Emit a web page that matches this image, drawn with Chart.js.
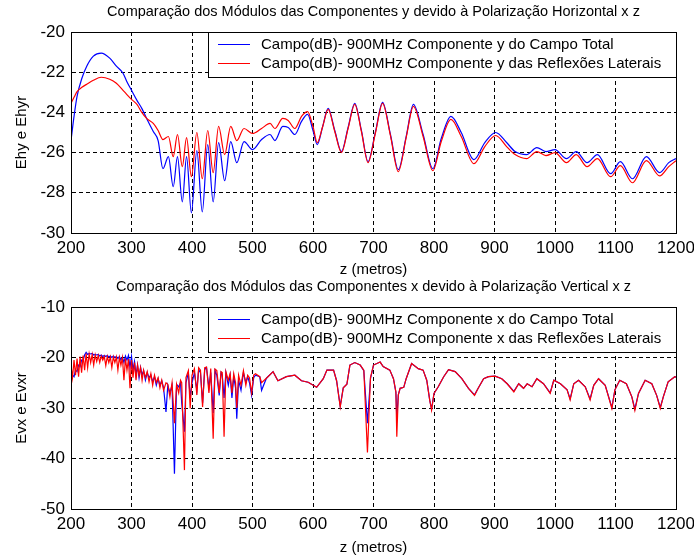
<!DOCTYPE html>
<html>
<head>
<meta charset="utf-8">
<script src="https://cdn.jsdelivr.net/npm/chart.js@4/dist/chart.umd.min.js"></script>
<style>
  html, body { margin: 0; padding: 0; background: #fff; }
  #wrap { position: relative; width: 694px; height: 560px; }
  canvas { position: absolute; left: 0; }
  #topChart { top: 0; }
  #botChart { top: 275px; }
</style>
</head>
<body>
<div id="wrap">
  <canvas id="topChart" width="694" height="280"></canvas>
  <canvas id="botChart" width="694" height="285"></canvas>
</div>
<script>
// --- y component, horizontal polarization ---
const zTop = [200, 205, 210, 218, 226, 237, 250, 264, 275, 286, 292, 300, 309, 317, 325, 336, 344, 352, 361, 369,
  376, 384, 391, 399, 408, 417, 426, 435, 444, 454, 464, 474, 486, 500, 515, 529, 537, 550, 559, 570,
  581, 591, 600, 607, 616, 625, 636, 647, 658, 669, 680, 691, 703, 715, 728, 741, 754, 766, 782, 798,
  812, 828, 845, 866, 884, 902, 920, 934, 953, 970, 985, 1000, 1019, 1035, 1053, 1070, 1092, 1108, 1128, 1151,
  1173, 1188, 1200];
const eyTotal = [-25.4, -24.2, -23.2, -22.3, -21.7, -21.2, -21.05, -21.3, -21.7, -22.05, -22.45, -22.9, -23.4, -23.8, -24.3, -24.95, -25.4, -26.8, -26.2, -27.7,
  -26.2, -28.45, -26.2, -29.0, -25.9, -28.95, -25.6, -28.45, -25.5, -27.4, -25.45, -26.5, -25.45, -25.85, -25.35, -25.1, -25.4, -24.7, -24.75, -25.1,
  -24.45, -24.1, -24.9, -25.6, -24.7, -23.8, -24.9, -25.95, -24.75, -23.55, -24.9, -26.45, -25.0, -23.5, -25.1, -26.85, -25.2, -23.6, -25.1, -26.8,
  -25.3, -24.2, -25.0, -26.35, -25.5, -25.0, -25.5, -25.95, -26.1, -25.75, -25.95, -25.85, -26.3, -25.95, -26.5, -26.1, -27.05, -26.45, -27.3, -26.2,
  -27.0, -26.5, -26.3];
const eyRefl = [-23.55, -23.25, -22.97, -22.75, -22.6, -22.4, -22.25, -22.35, -22.55, -22.9, -23.1, -23.35, -23.6, -24.0, -24.3, -24.55, -24.9, -25.35, -25.2, -26.2,
  -25.1, -26.7, -25.25, -27.2, -25.0, -27.3, -24.9, -27.0, -24.7, -26.1, -24.7, -25.4, -24.8, -25.05, -24.8, -24.55, -24.8, -24.3, -24.4, -24.8,
  -24.2, -23.96, -24.7, -25.5, -24.7, -23.85, -24.95, -26.0, -24.8, -23.6, -24.95, -26.5, -25.05, -23.55, -25.15, -26.95, -25.25, -23.7, -25.2, -26.9,
  -25.45, -24.35, -25.2, -26.55, -25.7, -25.15, -25.7, -26.1, -26.3, -25.95, -26.15, -26.0, -26.5, -26.1, -26.7, -26.3, -27.2, -26.65, -27.5, -26.4,
  -27.16, -26.7, -26.4];

// --- x component, vertical polarization ---
const zBot = [200, 202.5, 205, 207.5, 210, 212.5, 215, 217.5, 220, 222.5,
  225, 227.5, 230, 232.5, 235, 237.5, 240, 242.5, 245, 247.5,
  250, 252.5, 255, 257.5, 260, 262.5, 265, 267.5, 270, 272.5,
  275, 277.5, 280, 282.5, 285, 287.5, 290, 292.5, 295, 297.5,
  300, 302.5, 305, 307.5, 310, 312.5, 315, 317.5, 320, 323,
  326, 329, 332, 335, 338, 341, 344, 347, 350, 353,
  357, 360, 363.5, 367, 371, 374.5, 378, 381, 383, 387.5,
  390, 394, 397, 400, 404, 408, 411, 414, 417.5, 421,
  424, 428, 431, 435, 438, 441, 445, 448, 450, 453,
  456, 460, 463, 466, 469, 472, 474, 477, 481, 485,
  489, 492, 495, 498.5, 502, 505, 512, 515, 523, 534,
  542, 556, 570, 581, 592, 606, 617, 623, 634, 639,
  645, 650, 656, 661, 669, 678, 684, 690, 695, 700,
  711, 716, 727, 733, 737, 738.5, 741, 744, 750, 754,
  763, 774, 782, 788, 793, 796, 800, 807, 816, 824,
  835, 846, 857, 867, 873, 882, 890, 901, 912, 921,
  932, 940, 948, 954, 962, 970, 981, 992, 998, 1009,
  1020, 1025, 1031, 1039, 1050, 1058, 1064, 1072, 1083, 1094,
  1099, 1107, 1118, 1127, 1132, 1138, 1149, 1160, 1168, 1174,
  1179, 1187, 1198, 1200];
const exTotal = [-24.8, -23.5, -23.8, -22.5, -22.8, -21.5, -21.8, -20.5, -20.6, -19.5,
  -19.0, -19.4, -19.2, -19.3, -19.2, -19.5, -19.4, -19.5, -19.4, -19.7,
  -19.5, -19.8, -19.6, -19.8, -19.6, -19.9, -19.7, -20.0, -19.7, -20.0,
  -19.8, -20.2, -19.8, -20.5, -19.9, -21.0, -19.7, -20.5, -19.6, -22.0,
  -19.8, -22.5, -20.8, -23.5, -21.5, -24.0, -22.0, -23.5, -22.6, -24.5,
  -23.0, -24.0, -23.5, -24.8, -23.8, -25.5, -24.2, -25.5, -24.6, -26.0,
  -30.8, -25.5, -27.0, -25.5, -43.0, -25.3, -25.8, -25.0, -29.0, -34.7,
  -25.0, -23.0, -28.0, -25.0, -23.0, -26.5, -22.4, -23.0, -29.0, -22.4,
  -22.0, -26.0, -23.0, -31.0, -22.6, -23.5, -27.5, -23.0, -23.5, -28.0,
  -23.0, -25.5, -23.5, -28.0, -23.8, -26.0, -32.1, -24.5, -26.5, -23.0,
  -25.0, -23.8, -25.0, -27.5, -24.0, -23.5, -23.8, -26.5, -24.1, -22.8,
  -24.6, -23.8, -23.5, -24.6, -24.9, -25.9, -24.2, -22.5, -22.5, -24.6,
  -29.6, -26.0, -25.3, -21.5, -21.0, -21.5, -22.6, -33.0, -24.2, -21.5,
  -20.9, -21.8, -22.5, -24.2, -26.9, -32.0, -27.4, -26.1, -25.9, -24.2,
  -21.2, -22.2, -22.5, -24.5, -28.5, -30.2, -27.1, -25.8, -23.8, -22.4,
  -22.8, -24.2, -26.1, -27.4, -26.1, -24.2, -23.8, -23.7, -24.2, -25.2,
  -26.7, -25.2, -26.1, -25.2, -25.8, -24.2, -25.2, -27.0, -24.5, -25.2,
  -26.4, -28.2, -25.2, -24.5, -25.8, -28.2, -25.5, -24.2, -25.5, -29.9,
  -26.4, -24.5, -25.2, -27.8, -30.2, -27.1, -24.5, -25.2, -27.5, -29.9,
  -27.8, -24.8, -23.8, -23.9];
const exRefl = [-21.5, -24.0, -20.5, -23.5, -20.2, -23.8, -19.8, -23.0, -19.6, -22.5,
  -19.2, -22.0, -19.3, -21.0, -19.4, -21.5, -19.5, -20.8, -19.6, -21.0,
  -19.7, -20.5, -19.8, -21.6, -19.8, -21.0, -19.9, -22.0, -19.9, -21.0,
  -19.9, -22.5, -20.0, -21.5, -20.0, -24.5, -20.2, -22.5, -20.3, -26.1,
  -20.5, -24.0, -21.0, -24.5, -21.5, -23.5, -22.0, -24.5, -22.5, -24.0,
  -22.8, -24.8, -23.2, -25.5, -23.5, -25.0, -24.0, -26.0, -24.5, -26.5,
  -25.0, -25.3, -27.8, -25.0, -33.0, -25.3, -27.0, -24.5, -25.0, -42.3,
  -24.0, -22.6, -30.1, -23.5, -22.2, -27.4, -22.0, -22.5, -29.8, -22.0,
  -21.9, -27.0, -22.2, -36.1, -22.3, -22.6, -27.0, -22.8, -23.0, -35.7,
  -22.8, -24.5, -23.2, -27.0, -23.2, -25.0, -30.0, -23.5, -25.5, -22.6,
  -25.5, -23.5, -24.0, -27.0, -23.5, -23.2, -23.8, -25.0, -24.1, -22.8,
  -24.6, -23.8, -23.5, -24.6, -24.9, -25.9, -24.2, -22.5, -22.5, -24.6,
  -29.8, -26.0, -25.3, -21.5, -21.0, -21.5, -22.5, -38.8, -24.0, -21.5,
  -20.9, -21.8, -22.5, -24.2, -26.8, -35.7, -27.4, -26.1, -25.9, -24.2,
  -21.2, -22.2, -22.5, -24.5, -28.5, -30.4, -27.1, -25.8, -23.8, -22.4,
  -22.8, -24.2, -26.1, -27.5, -26.1, -24.2, -23.8, -23.7, -24.2, -25.2,
  -26.8, -25.2, -26.1, -25.2, -25.8, -24.2, -25.2, -27.1, -24.5, -25.2,
  -26.4, -28.4, -25.2, -24.5, -25.8, -28.4, -25.5, -24.2, -25.5, -30.1,
  -26.4, -24.5, -25.2, -27.8, -30.5, -27.1, -24.5, -25.2, -27.5, -30.1,
  -27.8, -24.8, -23.8, -23.9];

const zTicks = [200, 300, 400, 500, 600, 700, 800, 900, 1000, 1100, 1200];

const FONT = '"Liberation Sans", Arial, Helvetica, sans-serif';
Chart.defaults.font.family = FONT;
Chart.defaults.color = '#000';

// axes box plus a framed legend in the upper right corner of the plot area
const boxLegend = {
  id: 'boxLegend',
  afterDraw(chart) {
    const { ctx, chartArea: a } = chart;
    ctx.save();
    ctx.strokeStyle = '#000';
    ctx.lineWidth = 1;
    const l = Math.round(a.left), t = Math.round(a.top);
    const r = Math.round(a.right), b = Math.round(a.bottom);
    ctx.strokeRect(l + 0.5, t + 0.5, r - l, b - t);

    ctx.font = '15px ' + FONT;
    const sets = chart.data.datasets;
    const textW = Math.max(...sets.map(d => ctx.measureText(d.label).width));
    const w = Math.round(53 + textW + 15), h = 45;
    const x0 = r - w, y0 = t;
    ctx.fillStyle = '#fff';
    ctx.fillRect(x0, y0, w, h);
    ctx.strokeRect(x0 + 0.5, y0 + 0.5, w, h);
    ctx.textBaseline = 'middle';
    sets.forEach((d, i) => {
      const y = y0 + 12.5 + i * 19;
      ctx.strokeStyle = d.borderColor;
      ctx.beginPath();
      ctx.moveTo(x0 + 10, y);
      ctx.lineTo(x0 + 42, y);
      ctx.stroke();
      ctx.fillStyle = '#000';
      ctx.fillText(d.label, x0 + 53, y + 0.5);
    });
    ctx.restore();
  }
};

function makeChart(id, cfg) {
  const points = (xs, ys) => xs.map((x, i) => ({ x: x, y: ys[i] }));
  const line = (label, ys, color, order) => ({
    label: label,
    data: points(cfg.z, ys),
    borderColor: color,
    borderWidth: 1.2,
    pointRadius: 0,
    order: order,
    cubicInterpolationMode: cfg.smooth ? 'monotone' : 'default',
    tension: 0
  });
  return new Chart(document.getElementById(id), {
    type: 'line',
    data: {
      datasets: [
        line(cfg.labels[0], cfg.total, '#0000ff', 1),
        line(cfg.labels[1], cfg.refl, '#ff0000', 0)
      ]
    },
    options: {
      responsive: false,
      animation: false,
      layout: { padding: { left: 0, right: 18, top: 0, bottom: 0 } },
      plugins: {
        legend: { display: false },
        tooltip: { enabled: false },
        title: {
          display: true,
          fullSize: false,
          text: cfg.title,
          font: { size: 14.5, weight: 'normal' },
          color: '#000',
          padding: { top: 3.3, bottom: 11.3 }
        }
      },
      scales: {
        x: {
          type: 'linear',
          min: 200,
          max: 1200,
          afterBuildTicks: s => { s.ticks = zTicks.map(v => ({ value: v })); },
          afterFit: s => { s.height = cfg.xHeight; s.paddingLeft = 0; s.paddingRight = 0; },
          grid: { color: '#000', lineWidth: 1, drawTicks: false },
          border: { color: '#000', dash: [4, 3] },
          ticks: { font: { size: 17 }, padding: 5, maxRotation: 0, autoSkip: false, callback: v => String(v) },
          title: {
            display: true,
            text: 'z (metros)',
            font: { size: 15 },
            padding: { top: 0, bottom: cfg.xTitlePad }
          }
        },
        y: {
          min: cfg.yMin,
          max: cfg.yMax,
          ticks: { stepSize: cfg.yStep, font: { size: 17 }, padding: 6, callback: v => String(v) },
          afterFit: s => { s.width = 71; s.paddingTop = 0; s.paddingBottom = 0; },
          grid: { color: '#000', lineWidth: 1, drawTicks: false },
          border: { color: '#000', dash: [4, 3] },
          title: {
            display: true,
            text: cfg.yTitle,
            font: { size: 15 },
            padding: { top: 12.7, bottom: 0 }
          }
        }
      }
    },
    plugins: [boxLegend]
  });
}

makeChart('topChart', {
  title: 'Comparação dos Módulos das Componentes y devido à Polarização Horizontal x z',
  labels: ['Campo(dB)- 900MHz Componente y do Campo Total', 'Campo(dB)- 900MHz Componente y das Reflexões Laterais'],
  z: zTop, total: eyTotal, refl: eyRefl, smooth: true,
  yMin: -30, yMax: -20, yStep: 2, yTitle: 'Ehy e Ehyr',
  xHeight: 47, xTitlePad: 1
});

makeChart('botChart', {
  title: 'Comparação dos Módulos das Componentes x devido à Polarização Vertical x z',
  labels: ['Campo(dB)- 900MHz Componente x do Campo Total', 'Campo(dB)- 900MHz Componente x das Reflexões Laterais'],
  z: zBot, total: exTotal, refl: exRefl, smooth: false,
  yMin: -50, yMax: -10, yStep: 10, yTitle: 'Evx e Evxr',
  xHeight: 51, xTitlePad: 3
});
</script>
</body>
</html>
